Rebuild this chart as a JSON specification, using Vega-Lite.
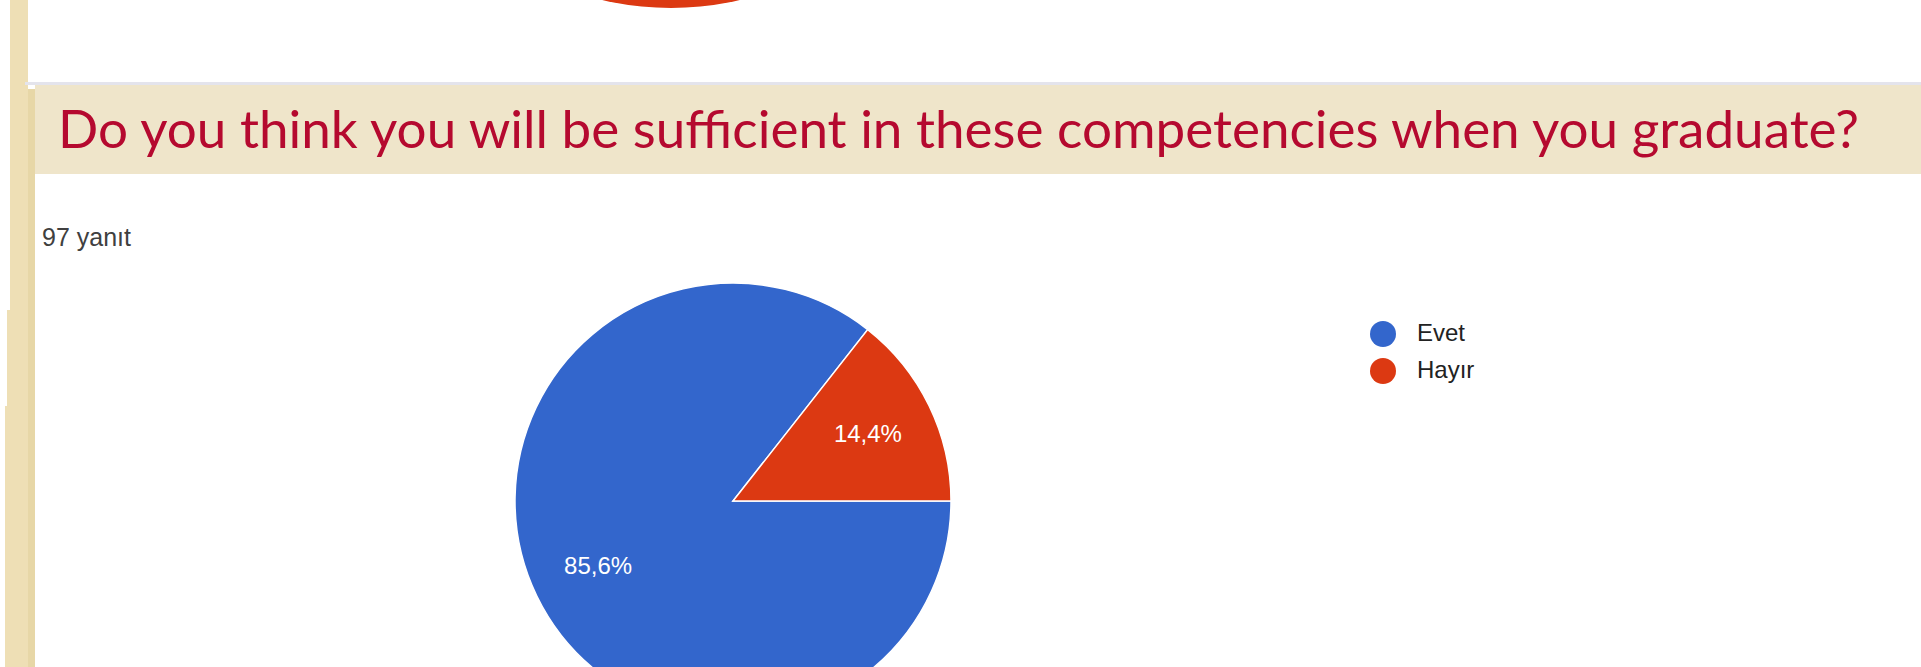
{
  "$schema": "https://vega.github.io/schema/vega-lite/v6.json",
  "width": 1921,
  "height": 667,
  "autosize": "none",
  "padding": 0,
  "background": "#FFFFFF",
  "config": {"view": {"stroke": null}},
  "datasets": {
    "responses": [
      {"answer": "Evet", "percent": 85.6, "label": "85,6%"},
      {"answer": "Hayır", "percent": 14.4, "label": "14,4%"}
    ]
  },
  "layer": [
    {
      "data": {"values": [{"part": "slide edge upper"}]},
      "mark": {"type": "rect", "color": "#EEDFB5"},
      "encoding": {"x": {"value": 10}, "x2": {"value": 28}, "y": {"value": 0}, "y2": {"value": 310}}
    },
    {
      "data": {"values": [{"part": "slide edge middle"}]},
      "mark": {"type": "rect", "color": "#EEDFB5"},
      "encoding": {"x": {"value": 7}, "x2": {"value": 28}, "y": {"value": 310}, "y2": {"value": 406}}
    },
    {
      "data": {"values": [{"part": "slide edge lower"}]},
      "mark": {"type": "rect", "color": "#EEDFB5"},
      "encoding": {"x": {"value": 5}, "x2": {"value": 28}, "y": {"value": 406}, "y2": {"value": 667}}
    },
    {
      "data": {"values": [{"part": "slide edge shadow"}]},
      "mark": {"type": "rect", "color": "#E7D7A7"},
      "encoding": {"x": {"value": 28}, "x2": {"value": 35}, "y": {"value": 89}, "y2": {"value": 667}}
    },
    {
      "data": {"values": [{"part": "separator"}]},
      "mark": {"type": "rect", "color": "#E4E4EC"},
      "encoding": {"x": {"value": 25}, "x2": {"value": 1921}, "y": {"value": 82}, "y2": {"value": 85}}
    },
    {
      "data": {"values": [{"part": "title band"}]},
      "mark": {"type": "rect", "color": "#EFE5CA"},
      "encoding": {"x": {"value": 35}, "x2": {"value": 1921}, "y": {"value": 85}, "y2": {"value": 174}}
    },
    {
      "data": {"values": [{"part": "previous chart"}]},
      "mark": {"type": "arc", "color": "#DC3912", "theta": 0, "theta2": 6.2832, "radius": 300},
      "encoding": {"x": {"value": 671}, "y": {"value": -292}}
    },
    {
      "data": {"values": [{"title": "Do you think you will be sufficient in these competencies when you graduate?"}]},
      "mark": {"type": "text", "font": "Lato", "fontSize": 53, "color": "#B5092F", "align": "left", "baseline": "alphabetic"},
      "encoding": {"text": {"field": "title"}, "x": {"value": 58}, "y": {"value": 148}}
    },
    {
      "data": {"values": [{"count": "97 yanıt"}]},
      "mark": {"type": "text", "font": "Liberation Sans", "fontSize": 25, "color": "#404040", "align": "left", "baseline": "alphabetic"},
      "encoding": {"text": {"field": "count"}, "x": {"value": 42}, "y": {"value": 246}}
    },
    {
      "data": {"name": "responses"},
      "mark": {"type": "arc", "radius": 218, "stroke": "#FFFFFF", "strokeWidth": 1.5},
      "encoding": {
        "theta": {"field": "percent", "type": "quantitative", "stack": true, "scale": {"range": [1.5708, 7.854]}},
        "order": {"field": "answer", "type": "ordinal", "sort": "ascending"},
        "color": {
          "field": "answer",
          "type": "nominal",
          "scale": {"domain": ["Evet", "Hayır"], "range": ["#3366CC", "#DC3912"]},
          "legend": {
            "orient": "none",
            "legendX": 1370,
            "legendY": 321,
            "title": null,
            "padding": 0,
            "symbolType": "circle",
            "symbolSize": 676,
            "symbolStrokeWidth": 0,
            "labelFont": "Liberation Sans",
            "labelFontSize": 24,
            "labelColor": "#222222",
            "labelOffset": 21,
            "rowPadding": 11
          }
        },
        "x": {"value": 733},
        "y": {"value": 501}
      }
    },
    {
      "data": {"name": "responses"},
      "mark": {"type": "text", "radius": 150, "fill": "#FFFFFF", "font": "Liberation Sans", "fontSize": 24, "align": "center", "baseline": "middle"},
      "encoding": {
        "theta": {"field": "percent", "type": "quantitative", "stack": true},
        "order": {"field": "answer", "type": "ordinal", "sort": "ascending"},
        "detail": {"field": "answer", "type": "nominal"},
        "text": {"field": "label"},
        "x": {"value": 733},
        "y": {"value": 501}
      }
    }
  ]
}
